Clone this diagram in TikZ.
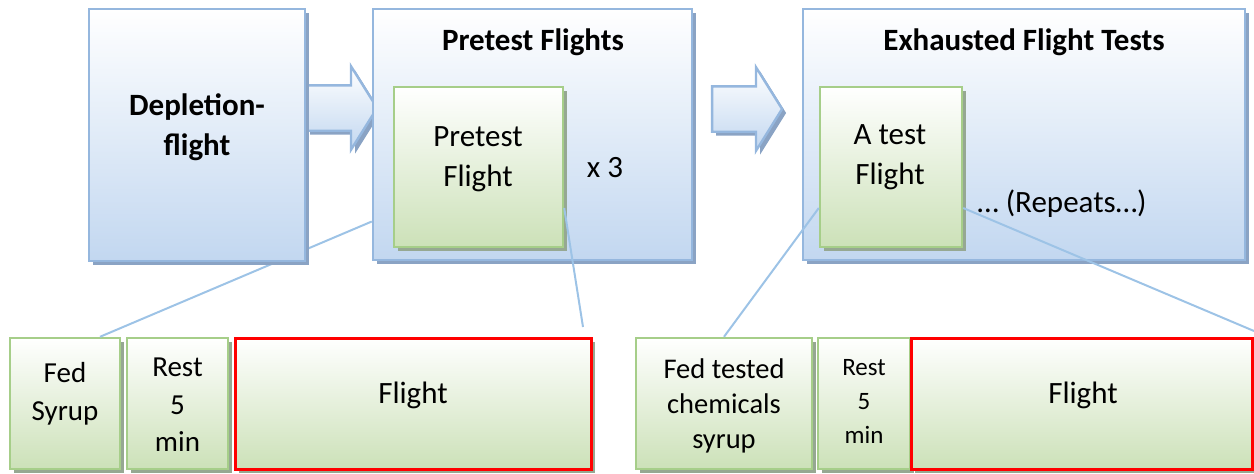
\documentclass[tikz,border=0pt]{standalone}
\usepackage{fontspec}
\setmainfont{Carlito}
\usepackage{tikz}
\usetikzlibrary{positioning, shapes.arrows, shadows}

\definecolor{boxblue}{RGB}{149,183,222}
\definecolor{fillblue}{RGB}{194,215,240}
\definecolor{shadeblue}{RGB}{138,163,196}
\definecolor{boxgreen}{RGB}{166,206,137}
\definecolor{fillgreen}{RGB}{204,225,184}
\definecolor{shadegreen}{RGB}{150,168,146}
\definecolor{linkblue}{RGB}{157,195,230}
\definecolor{flyred}{RGB}{255,0,0}

\tikzset{
  bluebox/.style={draw=boxblue, line width=2.4pt, top color=white, bottom color=fillblue,
    drop shadow={shadow xshift=4pt, shadow yshift=-4pt, fill=shadeblue, opacity=1}},
  greenbox/.style={draw=boxgreen, line width=2.4pt, top color=white, bottom color=fillgreen,
    drop shadow={shadow xshift=4pt, shadow yshift=-4pt, fill=shadegreen, opacity=1}},
  redbox/.style={greenbox, draw=flyred, line width=3pt},
  bigarrow/.style={bluebox, single arrow, single arrow tip angle=116, single arrow head extend=19pt,
    inner xsep=0pt, inner ysep=21.5pt},
  bigtxt/.style={font=\fontsize{31}{40}\selectfont, align=center, inner sep=0pt},
  headtxt/.style={bigtxt, font=\fontsize{31}{40}\selectfont\bfseries},
  smalltxt/.style={font=\fontsize{29}{37.5}\selectfont, align=center, inner sep=0pt},
  link/.style={draw=linkblue, line width=2pt},
}

\begin{document}
\begin{tikzpicture}[x=1pt, y=-1pt]
    \useasboundingbox (0,0) rectangle (1254,474);

    % block arrows
    \node [bigarrow, minimum height=71pt] (arr1) at (334.5,108) {};
    \node [bigarrow, minimum height=70pt] (arr2) at (740,109) {};

    % stage boxes
    \node [bluebox, minimum width=319pt, minimum height=251pt] (pre) at (532.5,134.5) {};
    \node [bluebox, minimum width=442pt, minimum height=251pt] (exh) at (1024,134.5) {};
    \node [greenbox, minimum width=169pt, minimum height=160pt] (ptf) at (478.5,167) {};
    \node [greenbox, minimum width=142pt, minimum height=160pt] (atf) at (891,167) {};

    % bottom steps
    \node [greenbox, minimum width=110pt, minimum height=131pt] (fed1) at (65,403.5) {};
    \node [greenbox, minimum width=101pt, minimum height=131pt] (rest1) at (177.5,403.5) {};
    \node [redbox, minimum width=356pt, minimum height=131pt] (fly1) at (413,403.5) {};
    \node [greenbox, minimum width=176pt, minimum height=131pt] (fed2) at (724,403.5) {};
    \node [greenbox, minimum width=92pt, minimum height=131pt] (rest2) at (864,403.5) {};
    \node [redbox, minimum width=341pt, minimum height=131pt] (fly2) at (1081.5,403.5) {};

    % zoom lines
    \coordinate (end2) at (583,327);
    \coordinate (end4) at (1254,331);
    \draw [link] ([yshift=-87pt]pre.west) -- ([xshift=35pt]fed1.north);
    \draw [link] ([yshift=-41pt]ptf.east) -- (end2);
    \draw [link] ([yshift=-41pt]atf.west) -- (fed2.north);
    \draw [link] ([yshift=-41pt]atf.east) -- (end4);

    \node [bluebox, minimum width=216pt, minimum height=252pt] (depl) at (197,135) {};

    % texts
    \node [headtxt] (depltxt) at ([yshift=8pt]depl.center) {Depletion-\\flight};
    \node [headtxt] (pretitle) at (533,42) {Pretest Flights};
    \node [headtxt] (exhtitle) at (1024,42) {Exhausted Flight Tests};
    \node [bigtxt] (ptftxt) at (478,159) {Pretest\\Flight};
    \node [bigtxt] (times) at (605,168) {x 3};
    \node [bigtxt] (atftxt) at (890,157) {A test\\Flight};
    \node [bigtxt] (repeats) at (1062,204) {… (Repeats…)};
    \node [smalltxt] (fed1txt) at (65,394) {Fed\\Syrup};
    \node [smalltxt] (rest1txt) at (177.5,405) {Rest\\5\\min};
    \node [bigtxt] (fly1txt) at (413,395) {Flight};
    \node [smalltxt, font=\fontsize{28.5}{35}\selectfont] (fed2txt) at (724,406) {Fed tested\\chemicals\\syrup};
    \node [smalltxt, font=\fontsize{25}{34}\selectfont] (rest2txt) at (864,401) {Rest\\5\\min};
    \node [bigtxt] (fly2txt) at (1083,395) {Flight};
\end{tikzpicture}
\end{document}
